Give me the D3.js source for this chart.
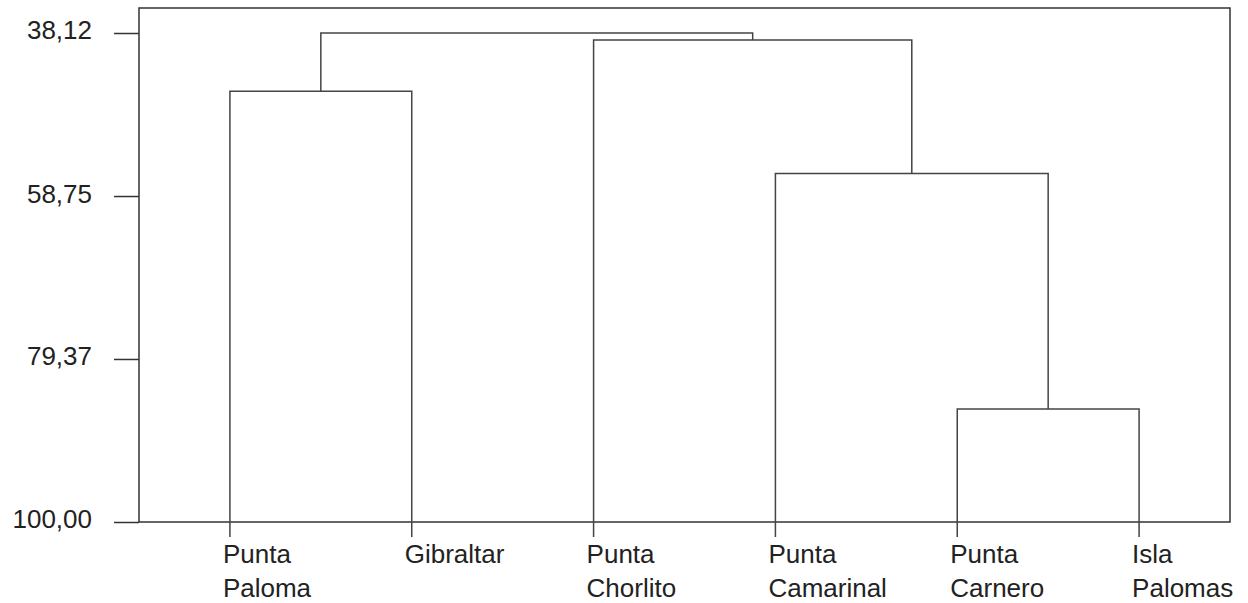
<!DOCTYPE html>
<html>
<head>
<meta charset="utf-8">
<script src="https://cdn.jsdelivr.net/npm/d3@7"></script>
<style>
  body { margin: 0; background: #fff; }
  svg { display: block; font-family: "Liberation Sans", Arial, sans-serif; }
</style>
</head>
<body>
<div id="chart"></div>
<script>
// leaves, left to right
var leaves = ["Punta Paloma", "Gibraltar", "Punta Chorlito", "Punta Camarinal", "Punta Carnero", "Isla Palomas"];
// merges: node ids 0-5 are leaves, each merge creates node 6, 7, ...
var mergeLeft   = [4, 3, 2, 0, 9];
var mergeRight  = [5, 6, 7, 1, 8];
var mergeHeight = [85.7, 55.9, 39.0, 45.5, 38.12];
var tickValues  = [38.12, 58.75, 79.37, 100.00];

var width = 1248, height = 603,
    margin = { top: 8, right: 18, bottom: 81, left: 139 },
    plotTop = 33;

var svg = d3.select('#chart').append('svg')
  .attr('width', width)
  .attr('height', height);

var xScale = d3.scaleBand()
  .domain(leaves)
  .range([margin.left, width - margin.right]);

var yScale = d3.scaleLinear()
  .domain([38.12, 100])
  .range([plotTop, height - margin.bottom]);

var fmt = function(d) { return d3.format('.2f')(d).replace('.', ','); };

// frame
svg.append('rect')
  .attr('x', margin.left)
  .attr('y', margin.top)
  .attr('width', width - margin.right - margin.left)
  .attr('height', height - margin.bottom - margin.top)
  .attr('fill', 'none')
  .attr('stroke', '#333')
  .attr('stroke-width', 1.5);

// y axis
var yAxis = d3.axisLeft(yScale)
  .tickValues(tickValues)
  .tickFormat(fmt)
  .tickSize(25)
  .tickPadding(22);

var yGuide = svg.append('g')
  .attr('transform', 'translate(' + margin.left + ',0)')
  .call(yAxis);
yGuide.select('.domain').remove();
yGuide.selectAll('line').attr('stroke', '#333').attr('stroke-width', 1.5);
yGuide.selectAll('text')
  .attr('fill', '#222')
  .attr('font-size', 26)
  .attr('font-family', '"Liberation Sans", Arial, sans-serif')
  .attr('dy', '0.23em');

// node positions
var nodeX = leaves.map(function(d) { return xScale(d) + xScale.bandwidth() / 2; });
var nodeY = leaves.map(function() { return yScale(100) + 15; });

var links = svg.append('g')
  .attr('fill', 'none')
  .attr('stroke', '#444')
  .attr('stroke-width', 1.5);

mergeHeight.forEach(function(h, i) {
  var a = mergeLeft[i], b = mergeRight[i];
  var xa = nodeX[a], xb = nodeX[b];
  var ym = yScale(h);
  var left = xa < xb ? a : b, right = xa < xb ? b : a;
  links.append('path')
    .attr('d', 'M' + nodeX[left] + ',' + nodeY[left] +
               'V' + ym + 'H' + nodeX[right] + 'V' + nodeY[right]);
  nodeX.push((xa + xb) / 2);
  nodeY.push(ym);
});

// leaf labels
var labels = svg.append('g')
  .attr('fill', '#222')
  .attr('font-size', 26);

leaves.forEach(function(name) {
  var words = name.split(' ');
  var t = labels.append('text')
    .attr('x', xScale(name) + xScale.bandwidth() / 2 - 7)
    .attr('y', 563);
  words.forEach(function(w, j) {
    t.append('tspan')
      .attr('x', xScale(name) + xScale.bandwidth() / 2 - 7)
      .attr('y', 563 + j * 34)
      .text(w);
  });
});
</script>
</body>
</html>
